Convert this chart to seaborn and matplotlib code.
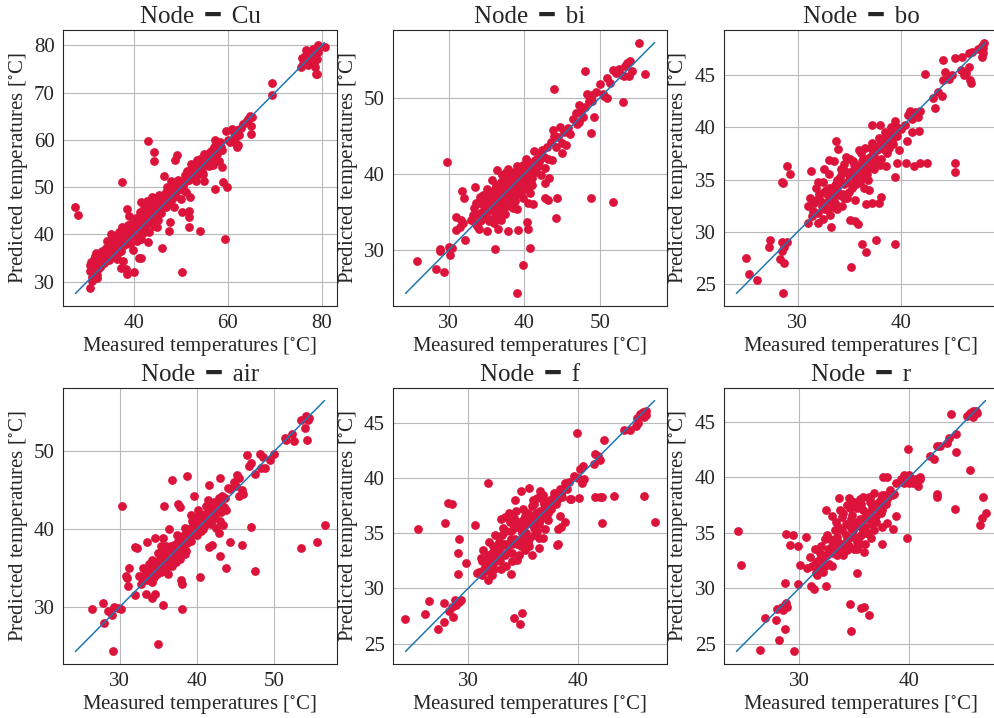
import matplotlib
matplotlib.use("Agg")
import matplotlib.pyplot as plt
import seaborn as sns
import pandas as pd

# (measured, predicted) pairs, one list per node
cu = [
    (27.5, 45.8), (28.0, 44.1), (30.6, 28.7), (37.4, 51.0), (42.9, 59.8), (44.2, 57.5), (44.2, 55.5),
    (48.7, 55.8), (49.2, 56.7), (50.3, 32.1), (45.9, 37.1), (59.4, 39.1), (54.0, 40.7), (59.8, 50.0),
    (57.2, 49.7), (59.0, 51.0), (58.8, 54.2), (69.3, 72.0), (69.5, 69.6), (78.8, 74.0), (79.0, 74.0),
    (80.6, 79.7), (65.0, 61.2), (65.0, 62.9), (62.0, 58.5), (61.7, 59.2), (38.5, 31.6), (39.9, 32.1),
    (38.2, 32.6), (37.3, 32.8), (37.6, 34.3), (41.0, 35.0), (41.4, 35.1), (43.0, 38.4), (44.8, 41.6),
    (47.5, 40.8), (47.6, 42.7), (51.7, 41.6), (51.8, 43.7), (51.7, 45.0), (50.3, 44.8), (54.8, 51.3),
    (53.8, 52.7), (56.9, 54.6), (62.2, 59.0),
    (30.5, 32.3), (30.6, 33.5), (30.8, 34.2), (31.0, 31.0), (31.1, 30.2), (31.2, 32.0), (31.4, 33.0),
    (31.5, 34.8), (31.6, 35.5), (31.8, 36.0), (31.9, 33.8), (32.0, 31.5), (32.1, 30.7), (32.3, 32.6),
    (32.4, 34.5), (32.6, 35.8), (32.8, 33.2), (33.0, 34.0), (33.2, 36.5), (33.5, 35.0), (33.8, 34.3),
    (34.0, 37.2), (34.2, 38.6), (34.5, 36.0), (34.8, 35.2), (35.0, 40.0), (35.2, 37.5), (35.5, 36.8),
    (35.8, 35.5), (36.0, 38.0), (36.2, 37.0), (36.4, 34.8), (36.6, 39.0), (36.8, 40.5), (37.0, 38.2),
    (37.2, 36.5), (37.4, 41.5), (37.5, 39.6), (37.8, 37.8), (38.0, 40.2), (38.2, 38.8), (38.5, 45.3),
    (38.6, 42.0), (38.8, 39.2), (39.0, 44.0), (39.2, 38.0), (39.4, 40.8), (39.6, 41.2), (39.8, 36.8),
    (40.0, 39.8), (40.2, 42.5), (40.4, 40.3), (40.6, 38.5), (40.8, 43.5), (41.0, 41.0), (41.2, 44.8),
    (41.4, 39.0), (41.5, 46.8), (41.6, 42.2), (41.8, 40.2), (42.0, 43.8), (42.2, 45.5), (42.4, 41.5),
    (42.6, 44.2), (42.8, 47.0), (43.0, 42.8), (43.2, 40.6), (43.4, 45.8), (43.6, 43.2), (43.8, 48.0),
    (44.0, 44.5), (44.2, 41.7), (44.4, 46.5), (44.6, 44.0), (44.8, 47.5), (45.0, 45.2), (45.2, 43.0),
    (45.4, 48.3), (45.6, 46.0), (45.8, 44.6), (46.0, 47.0), (46.3, 52.3), (46.5, 48.5), (46.7, 45.8),
    (47.0, 50.0), (47.2, 46.5), (47.5, 48.8), (47.8, 51.2), (48.0, 47.5), (48.3, 49.0), (48.5, 45.8),
    (48.8, 50.5), (49.0, 48.2), (49.3, 51.5), (49.6, 49.8), (50.0, 47.5), (50.2, 51.0), (50.5, 50.2),
    (50.8, 52.5), (51.0, 49.0), (51.3, 53.5), (51.6, 51.5), (51.9, 48.0), (52.2, 55.0), (52.5, 52.8),
    (52.8, 54.0), (53.1, 51.3), (53.4, 55.8), (53.7, 53.5), (54.0, 56.0), (54.3, 54.5), (54.6, 52.8),
    (55.0, 57.0), (55.3, 55.4), (55.6, 56.5), (56.0, 54.5), (56.3, 57.6), (56.6, 56.2), (57.0, 58.5),
    (57.3, 60.0), (57.6, 57.0), (58.0, 55.6), (58.4, 59.5), (58.8, 57.8), (59.5, 61.8), (60.0, 60.0),
    (60.4, 59.6), (60.8, 62.3), (61.2, 61.5), (61.6, 60.5), (62.0, 62.0), (62.4, 61.0), (62.8, 62.5),
    (63.2, 63.4), (63.8, 63.8), (64.3, 64.5), (64.8, 65.0), (65.2, 64.8),
    (31.5, 32.5), (31.8, 34.5), (32.2, 33.0), (32.5, 35.0), (33.0, 33.5), (33.4, 35.8), (33.8, 36.8),
    (34.3, 35.5), (34.6, 34.5), (35.0, 36.2), (35.4, 38.5), (35.8, 37.0), (36.2, 39.5), (36.5, 36.0),
    (37.0, 37.2), (37.3, 39.0), (37.8, 38.6), (38.2, 40.0), (38.6, 39.5), (39.0, 39.0), (39.4, 42.2),
    (39.8, 40.0), (40.2, 41.0), (40.5, 43.5), (40.9, 42.0), (41.2, 40.5), (41.6, 43.0), (42.0, 42.0),
    (42.3, 44.5), (42.7, 43.5), (43.1, 44.8), (43.5, 42.5), (43.9, 46.5), (44.3, 45.5), (44.7, 46.2),
    (45.1, 47.0), (45.5, 45.8), (46.0, 48.0), (46.4, 47.0), (46.8, 49.0), (47.3, 48.0), (47.7, 49.5),
    (48.2, 48.5), (48.6, 50.0), (49.1, 49.5), (49.6, 50.8), (50.1, 50.0), (50.6, 51.5), (51.1, 51.2),
    (51.6, 52.5), (52.1, 52.0), (52.6, 53.8), (53.1, 53.0), (53.6, 54.8), (54.1, 54.0), (54.6, 55.5),
    (55.1, 55.0), (55.6, 55.8), (56.1, 56.5), (56.6, 57.5), (57.5, 58.0), (58.0, 59.0), (58.5, 58.5),
    (32.0, 33.2), (32.8, 34.2), (33.6, 34.0), (34.4, 36.5), (35.2, 35.8), (36.0, 37.2), (36.8, 38.0),
    (37.6, 38.0), (38.4, 41.0), (39.2, 40.5), (40.0, 41.5), (40.8, 41.3), (41.6, 44.5), (42.4, 43.0),
    (43.2, 46.0), (44.0, 43.5), (44.8, 45.0), (45.6, 47.2), (46.4, 46.0), (47.2, 48.0), (48.0, 50.0),
    (48.8, 48.8), (49.6, 51.2), (50.4, 49.5), (51.2, 52.0), (52.0, 53.4), (52.8, 52.5), (53.6, 55.0),
    (54.4, 53.5), (55.2, 56.2), (56.0, 57.2), (57.0, 57.0),
    (75.5, 75.5), (75.8, 77.3), (76.0, 76.0), (76.3, 76.5), (76.5, 77.8), (76.8, 76.2), (77.0, 78.5),
    (77.2, 77.0), (77.5, 76.8), (77.7, 78.2), (78.0, 77.5), (78.2, 79.2), (78.4, 76.5), (78.6, 78.0),
    (78.8, 79.5), (79.0, 77.2), (79.1, 80.0), (79.3, 78.5), (77.0, 75.8), (76.6, 79.0), (78.5, 75.5),
    (76.2, 77.0), (77.4, 77.8), (78.3, 78.0), (79.0, 78.8), (77.8, 76.2), (76.9, 77.4),
]

bi = [
    (25.85, 28.5), (28.4, 27.5), (29.4, 27.1), (28.8, 30.2), (28.9, 29.9), (30.0, 30.4), (30.2, 29.4),
    (30.5, 30.3), (29.8, 41.5), (36.2, 30.1), (39.1, 24.3), (39.8, 28.0), (40.8, 30.3), (39.2, 32.7),
    (40.5, 32.8), (40.4, 33.7), (37.8, 32.5), (36.5, 32.8), (35.1, 32.5), (32.2, 31.3), (31.0, 32.6),
    (31.5, 33.0), (31.0, 34.3), (31.6, 34.0), (31.9, 33.5), (31.8, 37.8), (32.1, 36.9), (33.5, 38.3),
    (44.2, 34.2), (44.4, 36.9), (43.2, 36.6), (42.7, 36.9), (48.9, 36.9), (51.7, 36.3), (44.0, 51.1),
    (48.0, 53.5), (48.9, 45.4), (49.2, 47.5), (53.1, 49.5), (56.0, 53.1), (55.2, 57.25), (41.2, 36.0),
    (40.5, 36.2), (42.8, 38.8), (43.3, 39.5), (39.0, 35.4), (34.0, 32.8),
    (33.0, 34.0), (33.3, 35.5), (33.5, 33.5), (33.7, 34.8), (34.0, 36.2), (34.2, 33.8), (34.4, 35.0),
    (34.6, 37.2), (34.8, 34.3), (35.0, 36.0), (35.1, 38.0), (35.3, 35.2), (35.5, 37.5), (35.6, 34.0),
    (35.8, 39.2), (36.0, 36.5), (36.1, 35.0), (36.3, 38.5), (36.4, 40.5), (36.6, 36.0), (36.8, 34.8),
    (37.0, 37.8), (37.1, 39.8), (37.3, 35.5), (37.5, 38.8), (37.6, 36.8), (37.8, 40.6), (38.0, 37.5),
    (38.1, 35.8), (38.3, 39.5), (38.5, 38.0), (38.6, 40.2), (38.8, 36.5), (39.0, 39.0), (39.1, 41.0),
    (39.3, 37.8), (39.5, 40.0), (39.6, 38.5), (39.8, 36.8), (40.0, 40.5), (40.1, 39.2), (40.3, 42.0),
    (40.5, 38.0), (40.6, 40.8), (40.8, 37.5), (41.0, 41.2), (41.1, 39.5), (41.3, 43.0), (41.5, 40.3),
    (41.7, 42.0), (42.0, 41.5), (42.2, 39.8), (42.4, 43.2), (42.6, 42.2), (42.8, 40.8), (43.0, 43.5),
    (43.2, 42.0), (43.5, 44.2), (43.7, 41.8), (44.0, 45.0), (44.2, 43.5), (44.5, 44.8), (44.8, 46.2),
    (45.0, 44.0), (45.3, 45.5), (45.5, 43.8), (45.8, 46.0), (46.0, 45.2), (46.5, 47.2), (46.8, 48.0),
    (47.0, 46.5), (47.3, 49.0), (47.5, 48.3), (47.8, 47.5), (48.0, 48.8), (48.3, 50.5), (48.6, 49.6),
    (49.0, 50.4), (49.5, 50.8), (50.0, 51.8), (50.5, 50.2), (51.0, 52.6), (51.3, 52.0), (51.8, 53.6),
    (52.2, 53.2), (52.6, 53.8), (53.0, 53.0), (53.3, 54.2), (53.6, 54.6), (54.0, 54.8), (54.2, 53.5),
    (53.8, 52.8), (53.2, 52.8), (51.0, 50.0), (50.4, 50.5), (49.0, 49.6), (47.2, 46.8), (45.0, 42.8),
    (43.8, 45.8),
    (34.5, 36.0), (34.8, 35.5), (35.2, 36.8), (35.5, 35.8), (35.8, 36.2), (36.0, 37.5), (36.2, 34.5),
    (36.5, 37.0), (36.8, 36.2), (37.0, 35.2), (37.2, 38.2), (37.4, 37.0), (37.7, 39.2), (37.9, 38.0),
    (38.2, 36.8), (38.4, 40.0), (38.7, 39.0), (38.9, 37.2), (39.2, 40.3), (39.4, 38.8), (39.7, 39.5),
    (39.9, 41.2), (40.2, 38.5), (40.4, 39.8), (40.7, 40.0), (40.9, 38.8), (41.2, 40.5), (36.0, 33.5),
    (36.7, 34.2), (37.5, 34.8), (35.4, 33.8), (38.0, 39.0), (39.0, 38.0), (36.3, 36.8), (37.8, 36.0),
    (34.2, 34.5), (33.8, 33.2), (34.9, 36.8),
    (33.2, 34.6), (33.6, 36.2), (34.1, 37.0), (34.3, 34.0), (34.7, 35.8), (35.0, 34.6), (35.3, 37.0),
    (35.7, 36.5), (35.9, 35.2), (36.2, 38.0), (36.4, 35.6), (36.7, 37.4), (36.9, 39.0), (37.1, 36.5),
    (37.4, 38.5), (37.6, 40.2), (37.8, 37.2), (38.1, 38.6), (38.3, 37.0), (38.6, 39.5), (38.8, 38.2),
    (39.1, 39.6), (39.3, 40.6), (39.6, 37.5), (39.9, 38.3), (40.2, 40.0), (40.5, 41.5), (40.8, 39.5),
    (41.0, 38.5), (41.4, 41.8), (41.8, 41.0), (42.2, 42.5), (37.0, 34.0), (38.5, 35.5), (36.0, 35.8),
    (35.0, 35.0),
]

bo = [
    (25.0, 27.5), (25.3, 26.0), (26.1, 25.4), (28.6, 24.1), (27.3, 29.2), (27.2, 28.5), (28.3, 27.4),
    (28.7, 27.0), (28.5, 29.0), (29.0, 29.0), (28.7, 28.5), (28.5, 28.2), (28.5, 34.8), (28.6, 34.7),
    (29.0, 36.3), (29.3, 35.5), (31.3, 35.8), (32.0, 34.8), (32.5, 36.0), (33.0, 36.9), (33.7, 38.7),
    (34.5, 36.5), (33.9, 37.9), (31.0, 30.8), (32.0, 30.8), (33.2, 30.5), (35.1, 26.6), (36.2, 28.8),
    (36.6, 28.1), (37.5, 29.2), (39.4, 28.8), (35.0, 31.1), (35.5, 31.0), (35.8, 30.7), (36.6, 32.7),
    (37.2, 32.8), (38.0, 33.3), (37.8, 32.8), (40.4, 36.6), (41.2, 36.3), (41.8, 36.6), (42.5, 36.6),
    (45.2, 36.6), (45.2, 35.7), (39.4, 35.2), (39.6, 36.6), (38.5, 36.3), (42.3, 45.1), (43.0, 42.8),
    (43.2, 41.8), (43.5, 43.4), (43.9, 43.0), (44.0, 46.4), (44.2, 45.3), (44.0, 44.5), (44.6, 44.6),
    (44.9, 45.0), (45.2, 46.6), (45.8, 46.7), (46.5, 47.1), (46.8, 47.2), (47.8, 47.8), (48.0, 48.1),
    (47.9, 47.1), (47.8, 46.7), (45.7, 45.5), (46.0, 45.0), (46.2, 45.2), (46.6, 44.5), (46.7, 44.2),
    (46.5, 45.8), (47.4, 47.5), (47.9, 47.6),
    (31.0, 32.5), (31.2, 33.2), (31.4, 31.5), (31.6, 32.8), (31.8, 34.2), (32.0, 31.8), (32.2, 33.0),
    (32.4, 34.8), (32.6, 32.2), (32.8, 33.6), (33.0, 35.5), (33.1, 31.6), (33.3, 34.2), (33.5, 36.8),
    (33.6, 32.8), (33.8, 35.0), (34.0, 33.5), (34.2, 36.0), (34.3, 32.5), (34.5, 34.6), (34.7, 37.2),
    (34.9, 33.8), (35.0, 35.5), (35.2, 34.2), (35.4, 36.5), (35.5, 33.0), (35.7, 35.8), (35.9, 37.8),
    (36.0, 34.8), (36.2, 36.8), (36.4, 35.2), (36.5, 38.0), (36.7, 36.2), (36.9, 34.0), (37.0, 37.2),
    (37.2, 38.5), (37.4, 36.0), (37.6, 37.8), (37.8, 39.0), (38.0, 37.0), (38.2, 38.2), (38.4, 39.5),
    (38.6, 37.5), (38.8, 39.0), (39.0, 40.0), (39.2, 38.4), (39.4, 40.6), (39.6, 39.2), (39.8, 37.8),
    (40.0, 39.8), (40.3, 40.2), (40.6, 41.2), (40.8, 41.6), (41.0, 40.8), (41.3, 41.5), (41.6, 41.0),
    (41.8, 41.6), (40.5, 38.7), (41.0, 39.5), (41.7, 39.6), (37.2, 40.2), (37.9, 40.2), (33.0, 33.0),
    (32.5, 33.8), (34.0, 34.6), (35.5, 35.0), (36.5, 36.5), (37.5, 37.0), (38.5, 38.7),
    (31.8, 33.0), (32.3, 32.5), (32.7, 34.0), (33.2, 33.5), (33.6, 34.5), (34.1, 35.2), (34.4, 33.6),
    (34.8, 34.8), (35.2, 35.8), (35.6, 34.6), (35.9, 36.2), (36.3, 35.5), (36.6, 37.0), (36.9, 36.2),
    (37.3, 37.5), (37.7, 38.2), (38.1, 38.0), (38.3, 39.0), (38.7, 38.5), (39.1, 39.4), (39.5, 39.8),
    (34.6, 35.8), (35.3, 36.8), (36.1, 37.5), (33.4, 32.4), (34.8, 33.2), (36.8, 35.0), (37.9, 36.4),
    (32.9, 32.2), (35.8, 36.0),
    (31.5, 32.0), (32.1, 33.6), (32.6, 32.8), (33.0, 34.2), (33.4, 33.0), (33.8, 34.0), (34.2, 34.8),
    (34.5, 33.2), (34.9, 35.4), (35.3, 34.4), (35.6, 35.4), (36.0, 36.0), (36.3, 37.0), (36.7, 35.5),
    (37.0, 36.6), (37.4, 37.2), (37.7, 36.6), (38.0, 38.4), (38.4, 37.8), (38.8, 38.0), (39.2, 39.0),
    (39.6, 40.0), (35.0, 37.0), (34.3, 35.6), (36.4, 34.2), (33.8, 32.2), (32.4, 31.2), (37.1, 38.0),
]

air = [
    (26.4, 29.8), (27.8, 30.5), (28.0, 28.0), (28.5, 29.5), (29.0, 29.0), (29.3, 30.0), (29.8, 29.9),
    (30.2, 29.7), (29.1, 24.3), (35.0, 25.2), (30.3, 43.0), (35.6, 30.2), (38.1, 29.8), (38.1, 33.0),
    (38.0, 33.5), (34.6, 31.7), (34.2, 31.2), (33.4, 31.7), (32.0, 31.6), (31.1, 32.7), (31.0, 33.7),
    (30.8, 34.0), (31.2, 35.0), (32.2, 37.6), (32.0, 37.7), (33.5, 38.3), (34.6, 38.8), (35.7, 43.0),
    (36.8, 46.3), (38.7, 46.8), (37.5, 43.2), (37.8, 42.8), (39.6, 44.3), (40.4, 33.9), (43.0, 36.5),
    (43.8, 35.0), (44.3, 38.3), (45.8, 38.0), (47.0, 40.3), (47.5, 34.6), (53.5, 37.6), (55.5, 38.3),
    (56.5, 40.5), (41.5, 45.6), (43.0, 46.5), (41.6, 37.7), (42.0, 38.0), (46.5, 49.5), (47.0, 48.5),
    (46.7, 48.1), (47.5, 47.1), (48.1, 49.6), (48.5, 49.3), (48.3, 47.8), (48.8, 47.9), (49.5, 48.9),
    (50.0, 49.6), (51.4, 51.7), (51.5, 51.5), (52.3, 52.2), (52.6, 51.3), (53.5, 54.0), (54.1, 54.5),
    (54.3, 54.0), (54.0, 53.0), (54.2, 51.4), (54.5, 54.2),
    (32.5, 34.0), (32.8, 33.0), (33.0, 35.0), (33.3, 34.2), (33.5, 33.5), (33.8, 35.5), (34.0, 34.5),
    (34.2, 36.0), (34.5, 33.8), (34.7, 35.2), (35.0, 37.0), (35.2, 35.8), (35.4, 34.5), (35.6, 38.8),
    (35.8, 36.2), (36.0, 35.0), (36.2, 37.5), (36.4, 40.0), (36.6, 36.5), (36.8, 35.3), (37.0, 38.0),
    (37.2, 36.8), (37.4, 39.2), (37.6, 37.5), (37.8, 36.2), (38.0, 39.0), (38.2, 38.0), (38.4, 40.2),
    (38.6, 37.2), (38.8, 39.5), (39.0, 40.0), (39.2, 38.5), (39.4, 41.0), (39.6, 39.5), (39.8, 40.5),
    (40.0, 39.2), (40.2, 42.5), (40.4, 40.8), (40.6, 41.5), (40.8, 40.0), (41.0, 42.0), (41.2, 41.0),
    (41.4, 43.8), (41.6, 41.6), (41.8, 40.6), (42.0, 42.8), (42.2, 43.5), (42.4, 41.8), (42.6, 42.2),
    (42.8, 44.0), (43.0, 41.0), (43.2, 43.0), (43.4, 40.5), (43.6, 44.0), (43.8, 42.5), (42.8, 39.5),
    (42.5, 40.2), (44.0, 45.3), (44.3, 45.1), (45.0, 45.5), (45.5, 46.5), (45.8, 45.0), (45.5, 44.3),
    (46.0, 44.5), (44.8, 46.0), (45.2, 47.0),
    (33.6, 34.5), (34.0, 33.6), (34.4, 35.0), (34.8, 34.3), (35.1, 36.0), (35.5, 35.2), (35.9, 37.0),
    (36.3, 36.0), (36.7, 37.8), (37.1, 36.3), (37.5, 38.5), (37.9, 37.8), (38.3, 39.2), (38.7, 38.2),
    (39.1, 39.5), (39.5, 40.5), (39.9, 39.9), (40.3, 41.2), (40.7, 40.5), (41.1, 41.5), (41.5, 42.5),
    (41.9, 42.0), (42.3, 42.6), (42.7, 43.2), (43.1, 42.2), (36.0, 37.8), (37.0, 36.8), (38.0, 37.5),
    (39.0, 38.8), (40.0, 41.5), (42.0, 41.2), (43.3, 44.2), (35.3, 36.5), (34.2, 33.2),
    (33.0, 33.5), (33.5, 34.8), (34.0, 35.5), (34.5, 34.8), (35.0, 35.5), (35.5, 36.8), (36.0, 36.5),
    (36.5, 35.8), (37.0, 37.5), (37.5, 37.0), (38.0, 38.5), (38.5, 38.8), (39.0, 39.0), (39.5, 39.8),
    (40.0, 40.5), (40.5, 39.8), (41.0, 40.5), (41.5, 41.0), (42.0, 42.0), (42.5, 43.0), (43.0, 43.5),
    (43.5, 42.8), (36.2, 34.2), (37.3, 35.8), (38.4, 36.8), (35.4, 37.8), (39.3, 41.8), (41.2, 43.0),
]

f = [
    (24.3, 27.2), (25.45, 35.4), (26.1, 27.7), (26.4, 28.9), (27.3, 26.3), (27.8, 27.0), (27.8, 28.7),
    (28.5, 28.3), (28.6, 27.4), (28.3, 28.0), (28.9, 28.5), (29.2, 28.8), (29.4, 29.0), (28.8, 29.0),
    (27.9, 35.9), (28.2, 37.7), (28.5, 37.6), (29.2, 34.5), (29.1, 33.2), (29.8, 32.3), (29.1, 31.3),
    (30.6, 35.7), (31.8, 39.5), (31.8, 30.8), (30.8, 31.4), (33.9, 31.3), (34.2, 27.3), (34.7, 26.8),
    (34.9, 27.8), (35.6, 39.1), (36.8, 34.6), (36.5, 33.7), (38.1, 33.9), (38.2, 34.0), (38.2, 35.4),
    (38.5, 35.6), (38.8, 36.0), (39.9, 44.1), (40.1, 38.2), (39.4, 38.1), (42.0, 38.3), (42.2, 38.3),
    (41.6, 38.3), (42.2, 35.9), (43.3, 38.4), (46.0, 38.4), (47.0, 36.0), (42.4, 43.4), (41.5, 41.3),
    (41.8, 42.0), (42.0, 41.6), (41.6, 42.2), (44.2, 44.3), (44.8, 44.3), (45.3, 44.7), (45.4, 45.4),
    (45.7, 45.8), (45.9, 46.0), (46.2, 46.1), (45.5, 45.0), (46.0, 45.5), (46.2, 45.7), (40.2, 40.8),
    (40.5, 41.1), (40.0, 40.0), (39.7, 40.2), (40.6, 39.9), (40.4, 39.5),
    (31.0, 31.5), (31.2, 32.8), (31.4, 33.5), (31.5, 31.8), (31.7, 32.5), (31.9, 34.2), (32.0, 32.0),
    (32.2, 33.2), (32.4, 31.8), (32.5, 34.8), (32.7, 33.5), (32.9, 32.5), (33.0, 36.3), (33.2, 34.0),
    (33.4, 33.0), (33.5, 35.2), (33.7, 36.8), (33.9, 34.5), (34.0, 33.2), (34.2, 35.5), (34.3, 38.0),
    (34.5, 34.0), (34.7, 36.0), (34.9, 35.0), (35.0, 37.2), (35.2, 33.5), (35.3, 35.8), (35.5, 36.8),
    (35.6, 34.5), (35.8, 37.5), (36.0, 35.5), (36.1, 36.5), (36.3, 38.2), (36.5, 35.8), (36.6, 37.0),
    (36.8, 38.5), (37.0, 36.5), (37.1, 37.8), (37.3, 36.2), (37.5, 38.0), (37.6, 37.2), (37.8, 38.6),
    (38.0, 37.6), (38.2, 38.2), (38.4, 39.0), (38.6, 38.8), (38.8, 39.5), (39.0, 39.0), (39.2, 39.6),
    (38.4, 36.6), (39.3, 38.1), (34.0, 32.5), (33.0, 31.8), (32.2, 31.2), (35.0, 34.0), (36.0, 34.8),
    (37.0, 35.4), (35.8, 33.0), (34.6, 33.0), (33.5, 32.0), (34.8, 38.8), (36.6, 38.8),
    (31.6, 32.2), (32.1, 32.8), (32.6, 33.2), (33.0, 33.8), (33.5, 34.0), (33.9, 35.2), (34.3, 34.5),
    (34.7, 35.5), (35.1, 35.2), (35.4, 36.2), (35.8, 35.8), (36.2, 36.8), (36.6, 36.2), (37.0, 37.2),
    (37.4, 37.5), (37.8, 37.8), (38.2, 38.6), (38.6, 38.3), (33.2, 35.5), (33.8, 36.0), (34.4, 37.0),
    (35.2, 36.6), (36.0, 37.6), (32.8, 34.2), (34.8, 33.8), (35.5, 34.2), (36.3, 35.2), (37.3, 36.8),
    (32.3, 33.8), (31.3, 31.2),
    (31.3, 32.5), (31.8, 33.0), (32.3, 32.2), (32.7, 32.8), (33.1, 34.8), (33.6, 33.4), (34.0, 34.0),
    (34.4, 35.8), (34.9, 34.4), (35.3, 35.0), (35.7, 36.5), (36.1, 35.8), (36.5, 36.8), (36.9, 37.6),
    (37.3, 37.0), (37.7, 38.2), (38.1, 38.0), (38.5, 38.5), (33.4, 36.5), (34.2, 36.4), (35.0, 36.2),
    (35.9, 38.0), (36.8, 38.0), (34.5, 32.6), (35.6, 33.8), (36.5, 34.6), (32.9, 33.2), (31.8, 31.6),
]

r = [
    (24.4, 35.15), (24.7, 32.05), (26.4, 24.4), (29.5, 24.3), (26.9, 27.3), (27.9, 27.1), (28.0, 28.1),
    (28.2, 25.3), (28.7, 26.3), (28.4, 28.3), (28.7, 28.5), (28.9, 28.3), (28.8, 28.7), (28.5, 28.0),
    (28.7, 30.5), (28.8, 34.9), (29.2, 33.9), (29.4, 34.8), (29.9, 33.8), (30.1, 32.1), (29.9, 30.4),
    (30.6, 34.6), (30.7, 31.8), (31.1, 30.2), (31.3, 29.9), (32.4, 30.2), (32.3, 34.4), (32.4, 37.0),
    (33.6, 38.1), (34.5, 38.1), (34.6, 28.6), (34.7, 26.1), (35.6, 28.2), (35.9, 28.3), (36.3, 27.6),
    (35.2, 31.4), (35.9, 33.3), (37.5, 34.0), (38.0, 35.9), (38.5, 35.3), (38.8, 36.5), (39.8, 34.5),
    (39.9, 42.5), (42.2, 41.6), (41.9, 41.9), (42.5, 42.8), (42.8, 42.8), (43.4, 43.1), (43.6, 43.5),
    (43.8, 45.7), (44.2, 43.9), (44.2, 42.3), (42.5, 38.5), (42.5, 38.2), (44.1, 37.1), (45.5, 40.6),
    (46.4, 35.7), (46.6, 36.3), (46.7, 38.2), (46.9, 36.8), (45.2, 45.5), (45.5, 45.8), (45.8, 46.0),
    (46.0, 46.0), (45.8, 45.4), (46.1, 45.8), (39.2, 39.8), (39.5, 40.2), (40.0, 40.2), (40.5, 39.8),
    (41.0, 39.8), (40.8, 39.2), (40.3, 39.5), (38.8, 39.5), (38.0, 40.0), (37.6, 40.0), (40.0, 39.5),
    (39.5, 39.5), (41.0, 40.0),
    (31.0, 32.8), (31.2, 32.0), (31.4, 33.5), (31.6, 31.2), (31.8, 32.5), (32.0, 33.8), (32.2, 31.5),
    (32.4, 33.0), (32.5, 34.8), (32.7, 32.2), (32.9, 33.5), (33.0, 36.5), (33.2, 34.2), (33.4, 33.0),
    (33.5, 35.5), (33.7, 37.0), (33.9, 34.0), (34.0, 33.2), (34.2, 35.8), (34.3, 37.5), (34.5, 34.5),
    (34.7, 36.2), (34.9, 35.2), (35.0, 37.8), (35.2, 33.5), (35.3, 36.0), (35.5, 38.0), (35.6, 34.8),
    (35.8, 37.0), (36.0, 35.5), (36.1, 36.6), (36.3, 38.2), (36.5, 35.8), (36.6, 37.2), (36.8, 38.6),
    (37.0, 36.5), (37.2, 37.8), (37.4, 36.8), (37.5, 38.4), (37.7, 37.5), (38.0, 38.0), (38.2, 38.8),
    (36.8, 35.2), (36.0, 34.0), (35.0, 33.5), (34.0, 33.0), (33.0, 32.0), (37.5, 35.5), (36.5, 34.5),
    (35.5, 34.0),
    (31.7, 32.0), (32.1, 32.6), (32.6, 33.5), (33.1, 33.2), (33.5, 34.2), (33.9, 35.2), (34.3, 34.3),
    (34.7, 35.4), (35.1, 35.8), (35.5, 36.2), (35.9, 36.2), (36.3, 36.8), (36.7, 36.4), (37.1, 37.2),
    (37.5, 37.0), (37.9, 37.6), (33.3, 36.0), (34.0, 36.8), (34.6, 37.2), (35.2, 37.2), (35.8, 38.2),
    (36.4, 37.8), (32.8, 34.4), (34.5, 33.8), (35.4, 34.6), (36.2, 35.0), (37.0, 36.0), (38.4, 38.4),
    (33.6, 33.6), (31.9, 33.2),
    (31.5, 32.4), (32.0, 32.8), (32.5, 33.0), (33.0, 33.8), (33.4, 34.6), (33.8, 33.6), (34.2, 34.8),
    (34.6, 35.8), (35.0, 34.6), (35.4, 35.6), (35.8, 35.2), (36.2, 36.3), (36.6, 37.6), (37.0, 37.6),
    (37.4, 38.0), (37.8, 38.4), (33.2, 35.2), (33.9, 36.4), (34.8, 36.6), (35.6, 37.6), (36.4, 38.1),
    (34.3, 33.4), (35.2, 34.2), (36.0, 35.0), (36.8, 36.0), (32.3, 32.0), (31.5, 31.4), (38.6, 38.5),
]

nodes = ["Cu", "bi", "bo", "air", "f", "r"]
node_data = [cu, bi, bo, air, f, r]

sns.set_style("whitegrid", {"axes.edgecolor": ".15", "grid.color": ".72"})
plt.rcParams["font.family"] = ["Liberation Serif", "DejaVu Sans"]
plt.rcParams["mathtext.fontset"] = "stix"

fig, axes = plt.subplots(2, 3, figsize=(9.95, 7.18), dpi=100)
lefts = [0.0633, 0.395, 0.7276]
bottoms = [0.5738, 0.0752]

for i, (name, pairs) in enumerate(zip(nodes, node_data)):
    ax = axes.flat[i]
    ax.set_position([lefts[i % 3], bottoms[i // 3], 0.2754, 0.3844])
    df = pd.DataFrame(pairs, columns=["measured", "predicted"])
    sns.scatterplot(data=df, x="measured", y="predicted", ax=ax,
                    color="crimson", s=40, linewidth=0, zorder=2)
    lo = min(df["measured"].min(), df["predicted"].min())
    hi = max(df["measured"].max(), df["predicted"].max())
    ax.plot([lo, hi], [lo, hi], color="#1f77b4", lw=1.1, zorder=3)
    ax.grid(True, lw=0.8)
    ax.set_axisbelow(True)
    ax.set_title("Node \u2009\u2501\u2009 " + name, fontsize=18, pad=5)
    ax.set_xlabel(r"Measured temperatures [$^{\circ}$C]", fontsize=15, labelpad=1)
    ax.set_ylabel(r"Predicted temperatures [$^{\circ}$C]", fontsize=15, labelpad=3)
    ax.tick_params(labelsize=15, length=0, pad=6)

fig.savefig("out.png", dpi=100)
